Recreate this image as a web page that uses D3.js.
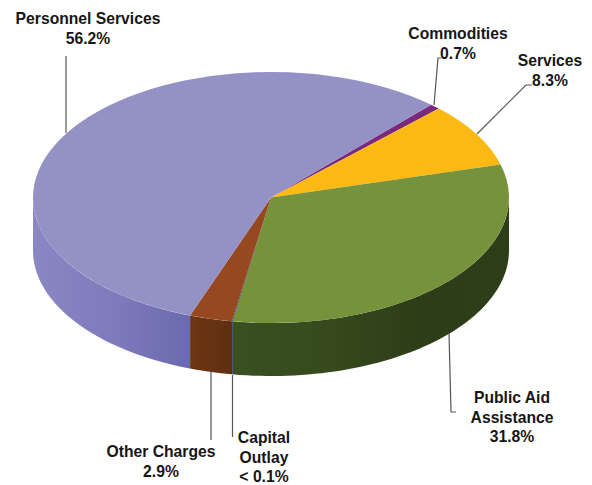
<!DOCTYPE html>
<html><head><meta charset="utf-8">
<script src="https://cdn.jsdelivr.net/npm/d3@7"></script>
<style>html,body{margin:0;padding:0;background:#fff}svg{display:block}
text{font-family:"Liberation Sans",Arial,sans-serif;font-weight:700;font-size:15.7px;fill:#161616;text-anchor:middle}</style>
</head><body><script>
const categories=["Commodities","Services","Public Aid Assistance","Capital Outlay","Other Charges","Personnel Services"];
const shares=[0.7,8.3,31.8,0.05,2.9,56.2];
const topColors=["#7a2a7e","#fdb913","#76923a","#1c2a70","#964820","#9492c5"];
const wallStops=[
 [["0","#5a2060"],["1","#5a2060"]],
 [["0","#b88a10"],["1","#b88a10"]],
 [["0","#3b5020"],["0.35","#364a1c"],["0.7","#2c3d17"],["1","#2d3e18"]],
 [["0","#1c2a70"],["1","#1c2a70"]],
 [["0","#6e3614"],["1","#5f2f10"]],
 [["0","#8b87c3"],["0.5","#7f7bbc"],["1","#6a6ab0"]]];
const labels=[
 {lines:["Personnel Services","56.2%"],x:88,y:24},
 {lines:["Commodities","0.7%"],x:458,y:39},
 {lines:["Services","8.3%"],x:550,y:66},
 {lines:["Public Aid","Assistance","31.8%"],x:512,y:403},
 {lines:["Capital","Outlay","< 0.1%"],x:264,y:443},
 {lines:["Other Charges","2.9%"],x:161,y:457}];
const leaders=[
 [[66,56],[66,133]],
 [[441,58],[438,58],[434,105]],
 [[532,85],[526,85],[477,134]],
 [[449,333],[451,412],[456,412]],
 [[232.5,375],[232.5,437]],
 [[211,372],[211,440]]];

const W=592,H=485,cx=271,cy=197.5,rx=238,ry=125.5,depth=53;
const svg=d3.select("body").append("svg").attr("width",W).attr("height",H);
const defs=svg.append("defs");
const slices=d3.pie().sort(null).value(d=>d).startAngle(42.3*Math.PI/180).endAngle((42.3+360)*Math.PI/180)(shares);
const px=t=>cx+rx*Math.sin(t),py=t=>cy-ry*Math.cos(t);
const PI=Math.PI;

function wallRange(s){
  const a=Math.max(s.startAngle,PI/2),b=Math.min(s.endAngle,3*PI/2);
  return a<b?[a,b]:null;
}
const walls=svg.append("g");
slices.forEach((s,i)=>{
  const r=wallRange(s); if(!r) return;
  const id="w"+i,[a,b]=r;
  const x1=px(a),x2=px(b);
  const g=defs.append("linearGradient").attr("id",id).attr("gradientUnits","userSpaceOnUse")
    .attr("x1",Math.min(x1,x2)).attr("x2",Math.max(x1,x2)).attr("y1",0).attr("y2",0);
  wallStops[i].forEach(st=>g.append("stop").attr("offset",st[0]).attr("stop-color",st[1]));
  const p=d3.path();
  const n=60,ts=d3.range(n+1).map(k=>a+(b-a)*k/n);
  ts.forEach((t,k)=>k?p.lineTo(px(t),py(t)):p.moveTo(px(t),py(t)));
  ts.slice().reverse().forEach(t=>p.lineTo(px(t),py(t)+depth));
  p.closePath();
  walls.append("path").attr("d",p.toString()).attr("fill",`url(#${id})`);
});
const arc=d3.arc().innerRadius(0).outerRadius(rx);
svg.append("g").attr("transform",`translate(${cx},${cy}) scale(1,${ry/rx})`)
  .selectAll("path").data(slices).join("path").attr("d",arc).attr("fill",(d,i)=>topColors[i]);

const line=d3.line();
svg.append("g").selectAll("path").data(leaders).join("path").attr("d",line)
  .attr("fill","none").attr("stroke","#555").attr("stroke-width",1.2);
const lh=19.5;
const tx=svg.append("g").selectAll("text").data(labels).join("text")
  .attr("x",d=>d.x).attr("y",d=>d.y);
tx.selectAll("tspan").data(d=>d.lines.map((l,i)=>({l,i,x:d.x}))).join("tspan")
  .attr("x",d=>d.x).attr("dy",d=>d.i?lh:0).text(d=>d.l);
</script></body></html>
